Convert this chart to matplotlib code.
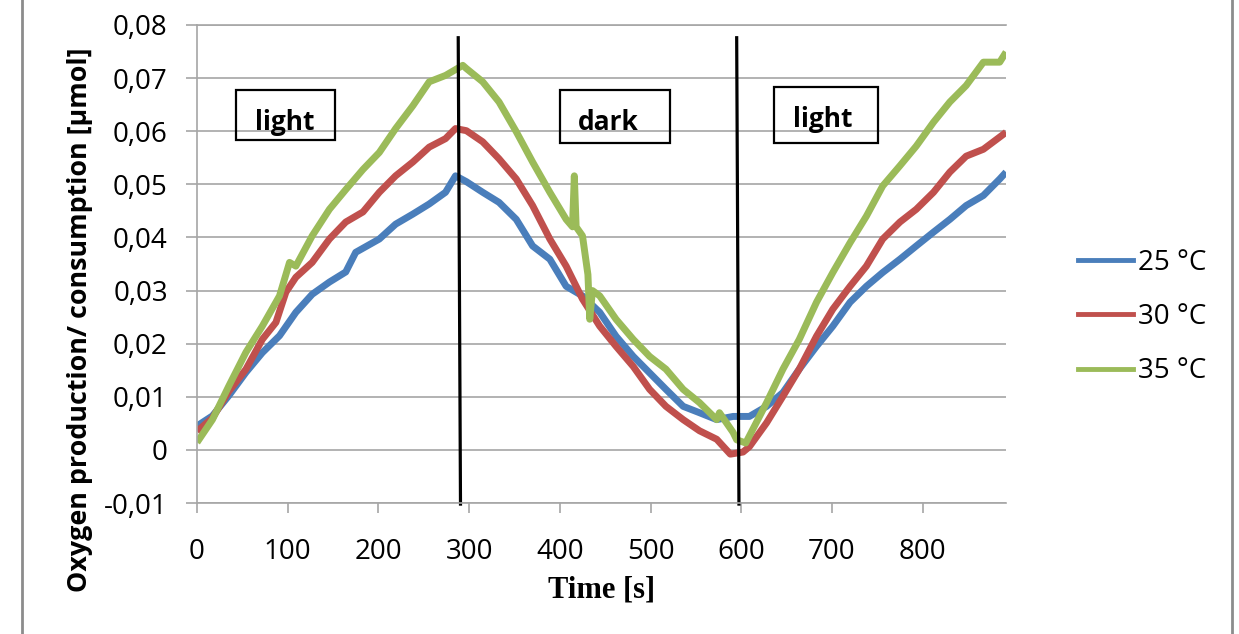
import matplotlib
matplotlib.use("Agg")
import matplotlib.pyplot as plt
from matplotlib.lines import Line2D
from matplotlib.patches import Rectangle
from matplotlib.ticker import FuncFormatter

# values (time in s, oxygen in umol)
t_25 = [0, 17, 35, 54, 72, 91, 109, 127, 146, 164, 175, 201, 219, 238, 256, 274, 285,
        297, 315, 333, 352, 370, 389, 407, 425, 444, 462, 481, 499, 517, 536, 554, 573,
        591, 609, 628, 646, 664, 683, 701, 720, 738, 756, 775, 793, 812, 830, 848, 867,
        885, 892]
o2_25 = [0.0045, 0.0064, 0.0102, 0.0146, 0.0183, 0.0215, 0.0259, 0.0293, 0.0316, 0.0335,
         0.0372, 0.0397, 0.0425, 0.0444, 0.0463, 0.0485, 0.0516,
         0.0505, 0.0485, 0.0466, 0.0434, 0.0384, 0.0359, 0.0308, 0.0290, 0.0259, 0.0214,
         0.0176, 0.0145, 0.0114, 0.0082, 0.0070, 0.0057, 0.0063, 0.0063, 0.0082, 0.0108,
         0.0152, 0.0195, 0.0233, 0.0278, 0.0308, 0.0334, 0.0359, 0.0384, 0.0410, 0.0434,
         0.0460, 0.0479, 0.0510, 0.0523]

t_30 = [0, 17, 35, 54, 72, 87, 98, 109, 127, 146, 164, 183, 201, 219, 238, 256, 274, 285,
        297, 315, 333, 352, 370, 389, 407, 425, 444, 462, 481, 499, 517, 536, 554, 573,
        588, 602, 609, 628, 646, 664, 683, 701, 720, 738, 756, 775, 793, 812, 830, 848,
        867, 885, 892]
o2_30 = [0.0035, 0.0060, 0.0110, 0.0152, 0.0208, 0.0240, 0.0297, 0.0325, 0.0353, 0.0397,
         0.0429, 0.0448, 0.0485, 0.0516, 0.0542, 0.0570, 0.0586, 0.0605,
         0.0601, 0.0580, 0.0548, 0.0510, 0.0460, 0.0397, 0.0346, 0.0284, 0.0233, 0.0195,
         0.0157, 0.0114, 0.0082, 0.0057, 0.0036, 0.0020, -0.0008, -0.0004, 0.0006, 0.0051,
         0.0101, 0.0152, 0.0214, 0.0265, 0.0308, 0.0346, 0.0397, 0.0429, 0.0453, 0.0485,
         0.0523, 0.0553, 0.0566, 0.0589, 0.0598]

t_35 = [0, 17, 35, 54, 72, 91, 102, 109, 127, 146, 164, 183, 201, 219, 238, 256, 274, 293,
        297, 315, 333, 352, 370, 389, 407, 414, 416, 418, 425, 431, 433, 436, 444, 462, 481,
        499, 517, 536, 554, 573, 576, 591, 595, 605, 628, 646, 664, 683, 701, 720, 738,
        756, 775, 793, 812, 830, 848, 867, 885, 892]
o2_35 = [0.0014, 0.0057, 0.0120, 0.0184, 0.0233, 0.0290, 0.0353, 0.0346, 0.0403, 0.0453,
         0.0490, 0.0528, 0.0560, 0.0605, 0.0648, 0.0693, 0.0705, 0.0724,
         0.0718, 0.0693, 0.0655, 0.0599, 0.0542, 0.0485, 0.0434, 0.0420, 0.0516, 0.0420,
         0.0403, 0.0330, 0.0246, 0.0300, 0.0290, 0.0246, 0.0208, 0.0176, 0.0152, 0.0114,
         0.0089, 0.0057, 0.0070, 0.0033, 0.0019, 0.0013, 0.0089, 0.0152, 0.0208, 0.0278,
         0.0334, 0.0390, 0.0440, 0.0497, 0.0535, 0.0572, 0.0617, 0.0655, 0.0686, 0.0730,
         0.0730, 0.0749]

labels = ['25 °C', '30 °C', '35 °C']
colors = ['#4A7EBB', '#C0504D', '#9BBB59']
y_ticks = [-0.01, 0, 0.01, 0.02, 0.03, 0.04, 0.05, 0.06, 0.07, 0.08]
x_ticks = [0, 100, 200, 300, 400, 500, 600, 700, 800]
phases = ['light', 'dark', 'light']
phase_edges = [290, 597]

fig = plt.figure(figsize=(12.39, 6.34), dpi=100)
ax = fig.add_axes([0.159, 0.2066, 0.653, 0.754])

for tt, yy, col in zip([t_25, t_30, t_35], [o2_25, o2_30, o2_35], colors):
    ax.plot(tt, yy, color=col, lw=5, solid_joinstyle='round', solid_capstyle='butt')

ax.set_xlim(0, 892)
ax.set_ylim(-0.01, 0.08)
ax.set_yticks(y_ticks)
ax.set_xticks(x_ticks)
ax.yaxis.set_major_formatter(FuncFormatter(lambda v, p: '0' if abs(v) < 1e-9 else ('%.2f' % v).replace('.', ',')))
ax.grid(axis='y', color='#A6A6A6', lw=1.2)
ax.set_axisbelow(True)
ax.spines['right'].set_visible(False)
for s in ['left', 'bottom', 'top']:
    ax.spines[s].set_color('#A6A6A6')
    ax.spines[s].set_linewidth(1.2)
ax.tick_params(axis='both', colors='#A6A6A6', labelcolor='black', labelsize=20, width=1.2)
ax.tick_params(axis='y', length=8, pad=13)
ax.tick_params(axis='x', length=7, pad=18)
for lab in ax.get_xticklabels() + ax.get_yticklabels():
    lab.set_family('Open Sans')

fig.text(80 / 1239, 0.495, 'Oxygen production/ consumption [µmol]', rotation=90, ha='center',
         va='center', fontsize=19.4, fontweight='bold', family='Open Sans')
fig.text(602 / 1239, 1 - 590 / 634, 'Time [s]', ha='center', va='center', fontsize=22,
         fontweight='bold', family='Liberation Serif')

# phase boundaries
for e in phase_edges:
    ax.plot([e - 2, e + 0.5], [0.0776, -0.0102], color='black', lw=2.3, clip_on=False)

# phase boxes: x0, y0, width, height, text x, text baseline
boxes = [(43, 0.0583, 109, 0.0094, 97, 0.0602),
         (400, 0.0577, 122, 0.0100, 454, 0.0602),
         (636, 0.0577, 115, 0.0107, 690, 0.0608)]
for (bx, by, bw, bh, tx, ty), txt in zip(boxes, phases):
    ax.add_patch(Rectangle((bx, by), bw, bh, fill=False, edgecolor='black', lw=1.6, zorder=5))
    ax.text(tx, ty, txt, ha='center', va='baseline', fontsize=19,
            fontweight='bold', family='Open Sans', zorder=6)

handles = [Line2D([], [], color=c, lw=3.5) for c in colors]
fig.legend(handles, labels, loc='center left', bbox_to_anchor=(1078 / 1239, 1 - 317 / 634),
           frameon=False, borderpad=0, borderaxespad=0, handlelength=1.98, handletextpad=0.18,
           labelspacing=0.95, prop={'family': 'Open Sans', 'size': 20})

# chart area frame
fig.add_artist(Line2D([22 / 1239, 22 / 1239], [0, 1], color='#8C8C8C', lw=2))
fig.add_artist(Line2D([1232 / 1239, 1232 / 1239], [0, 1], color='#8C8C8C', lw=2))

fig.savefig('out.png', dpi=100)
